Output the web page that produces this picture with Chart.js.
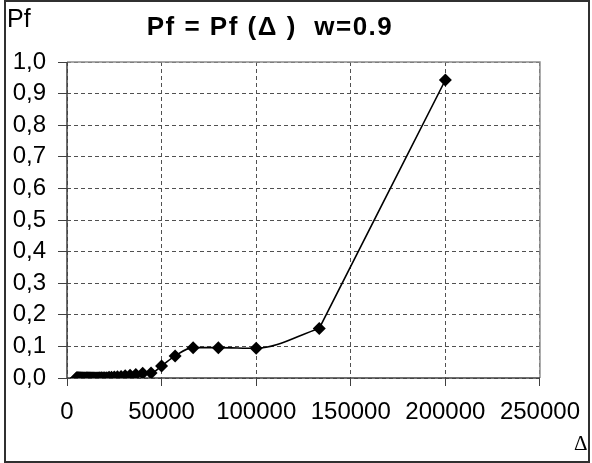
<!DOCTYPE html>
<html>
<head>
<meta charset="utf-8">
<script src="https://cdn.jsdelivr.net/npm/chart.js@4.4.1/dist/chart.umd.min.js"></script>
<style>
  html, body { margin: 0; padding: 0; background: #fff; }
  #wrap { position: relative; width: 592px; height: 463px; }
</style>
</head>
<body>
<div id="wrap"><canvas id="c" width="592" height="463"></canvas></div>
<script>
// Δ values (x) and Pf values (y)
const deltaVals = [
  5000, 5128, 5263, 5405, 5556, 5714, 5882, 6061, 6250, 6452, 6667, 6897, 7143, 7407, 7692,
  8000, 8333, 8696, 9091, 9524, 10000, 10256, 10526, 10811, 11111, 11429, 11765, 12121, 12500,
  12903, 13333, 13793, 14286, 14815, 15385, 16000, 16667, 17391, 18182, 19048, 20000, 21053,
  22222, 23529, 25000, 26667, 28571, 30769, 33333, 36364, 40000, 44444, 50000, 57143, 66667,
  80000, 100000, 133333, 200000
];
const pfVals = [
  0, 0, 0, 0, 0, 0, 0, 0, 0, 0, 0, 0, 0, 0, 0,
  0, 0, 0, 0, 0, 0, 0, 0, 0, 0, 0, 0, 0, 0,
  0, 0, 0, 0, 0, 0, 0, 0, 0.001, 0.001, 0.001, 0.001, 0.001,
  0.002, 0.002, 0.003, 0.004, 0.005, 0.007, 0.009, 0.011, 0.015, 0.016, 0.038, 0.070, 0.096,
  0.096, 0.094, 0.157, 0.943
];
const xTicks = [0, 50000, 100000, 150000, 200000, 250000];
const yTicks = ['0,0', '0,1', '0,2', '0,3', '0,4', '0,5', '0,6', '0,7', '0,8', '0,9', '1,0'];

const titleText = 'Pf = Pf (\u0394 )  w=0.9';
const yName = 'Pf';
const xName = '\u0394';

const points = deltaVals.map((d, i) => ({ x: d, y: pfVals[i] }));
// the smooth part of the curve and its last, almost straight stretch
const splitAt = 133333;
const lowPart = points.filter(p => p.x <= splitAt);
const highPart = points.filter(p => p.x >= splitAt);

// frame, plot border and the free texts
const decor = {
  id: 'decor',
  beforeDatasetsDraw(chart) {
    const { ctx, chartArea: a } = chart;
    ctx.save();
    ctx.setLineDash([]);
    ctx.strokeStyle = '#8c8c8c';
    ctx.lineWidth = 1.5;
    ctx.beginPath();
    ctx.moveTo(a.left, a.top);
    ctx.lineTo(a.right, a.top);
    ctx.lineTo(a.right, a.bottom);
    ctx.stroke();
    ctx.strokeStyle = '#404040';
    ctx.lineWidth = 1.5;
    ctx.beginPath();
    ctx.moveTo(a.left, a.top);
    ctx.lineTo(a.left, a.bottom);
    ctx.lineTo(a.right, a.bottom);
    ctx.stroke();
    ctx.restore();
  },
  afterDraw(chart) {
    const { ctx } = chart;
    ctx.save();
    ctx.strokeStyle = '#303030';
    ctx.lineWidth = 2;
    ctx.strokeRect(5, 1, 584, 461);
    ctx.fillStyle = '#000';
    ctx.textBaseline = 'alphabetic';
    ctx.font = '25px "Liberation Sans", Arial, sans-serif';
    ctx.textAlign = 'left';
    ctx.fillText(yName, 7, 27);
    ctx.font = 'bold 26px "Liberation Sans", Arial, sans-serif';
    ctx.letterSpacing = '1.5px';
    ctx.textAlign = 'center';
    ctx.fillText(titleText, 270, 35);
    ctx.letterSpacing = '0px';
    ctx.font = '21px "Liberation Serif", "Times New Roman", serif';
    ctx.textAlign = 'left';
    ctx.fillText(xName, 574, 450);
    ctx.restore();
  }
};

const lineStyle = {
  showLine: true,
  borderColor: '#000',
  borderWidth: 1.6,
  pointRadius: 0
};

new Chart(document.getElementById('c'), {
  type: 'scatter',
  data: {
    datasets: [
      Object.assign({ data: lowPart, cubicInterpolationMode: 'monotone' }, lineStyle),
      Object.assign({ data: highPart, tension: 0.1 }, lineStyle),
      {
        data: points,
        showLine: false,
        pointStyle: 'rectRot',
        pointRadius: 6.5,
        pointBackgroundColor: '#000',
        pointBorderColor: '#000',
        pointBorderWidth: 0
      }
    ]
  },
  options: {
    responsive: false,
    animation: false,
    layout: { padding: { top: 62, right: 44, left: 0, bottom: 0 } },
    plugins: { legend: { display: false }, tooltip: { enabled: false }, title: { display: false } },
    scales: {
      x: {
        type: 'linear',
        min: 0,
        max: 250000,
        afterBuildTicks: s => { s.ticks = xTicks.map(v => ({ value: v })); },
        afterFit: s => { s.height = 85; },
        grid: { color: '#505050', lineWidth: 1, tickLength: 8, tickColor: '#404040', tickBorderDash: [] },
        border: { display: false, dash: [4, 3] },
        ticks: {
          color: '#000',
          padding: 12,
          autoSkip: false,
          maxRotation: 0,
          font: { family: '"Liberation Sans", Arial, sans-serif', size: 24 },
          callback: v => String(v)
        }
      },
      y: {
        min: 0,
        max: 1,
        afterBuildTicks: s => { s.ticks = yTicks.map((t, i) => ({ value: i / 10 })); },
        afterFit: s => { s.width = 67; },
        grid: { color: '#505050', lineWidth: 1, tickLength: 9, tickColor: '#404040', tickBorderDash: [] },
        border: { display: false, dash: [4, 3] },
        ticks: {
          color: '#000',
          padding: 12,
          autoSkip: false,
          font: { family: '"Liberation Sans", Arial, sans-serif', size: 24 },
          callback: (v, i) => yTicks[i]
        }
      }
    }
  },
  plugins: [decor]
});
</script>
</body>
</html>
